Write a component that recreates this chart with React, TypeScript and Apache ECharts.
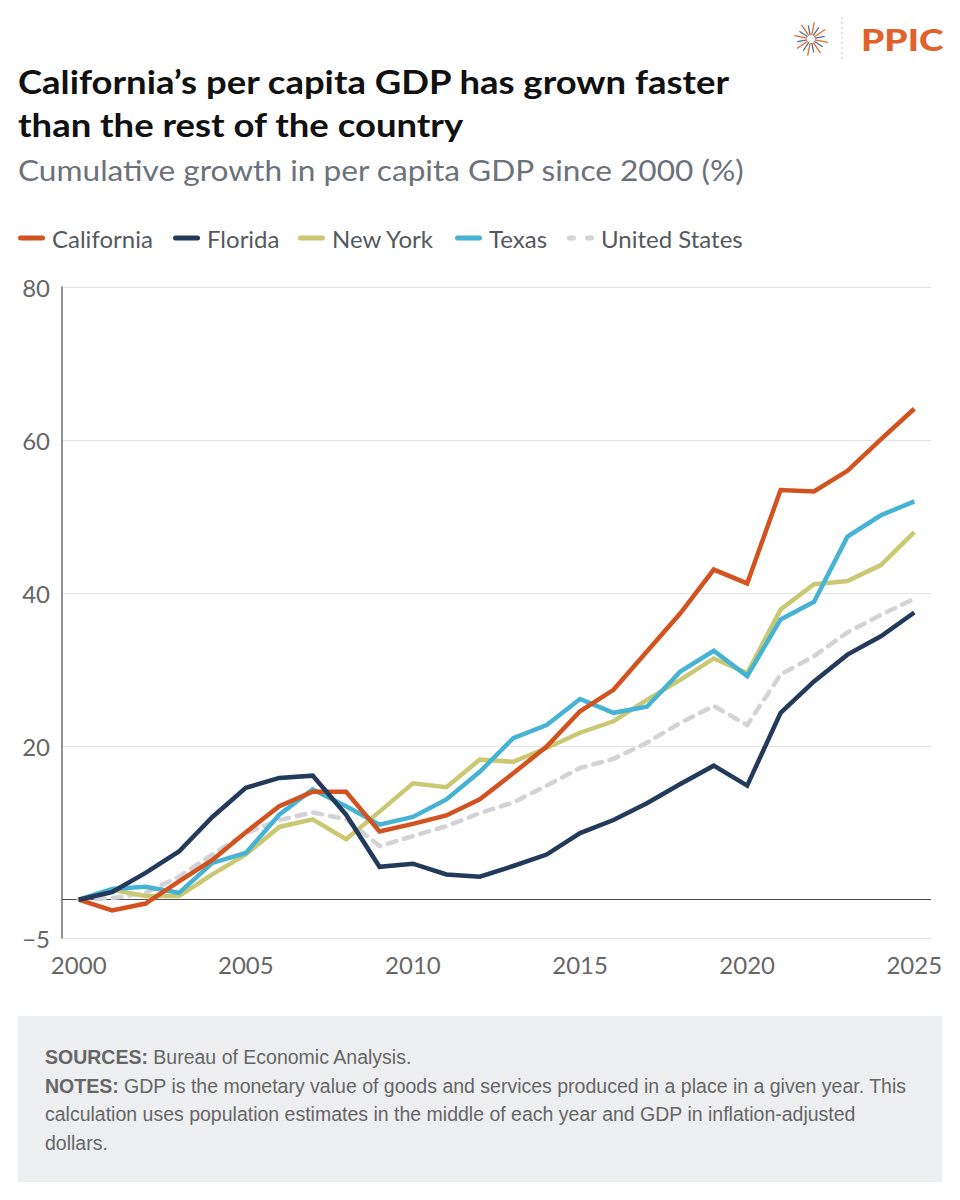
import React, { useEffect, useRef } from "react";
import * as echarts from "echarts";

const years = ["2000","2001","2002","2003","2004","2005","2006","2007","2008","2009","2010","2011","2012","2013","2014","2015","2016","2017","2018","2019","2020","2021","2022","2023","2024","2025"];

const california = [0, -1.4, -0.5, 2.4, 5.2, 8.8, 12.2, 14.1, 14.1, 8.9, 9.9, 11.0, 13.1, 16.5, 20.0, 24.6, 27.4, 32.4, 37.4, 43.1, 41.3, 53.5, 53.3, 56.0, 60.1, 64.1];
const florida = [0, 1.0, 3.5, 6.3, 10.8, 14.6, 15.9, 16.2, 11.1, 4.3, 4.7, 3.3, 3.0, 4.4, 5.9, 8.7, 10.4, 12.6, 15.1, 17.5, 14.9, 24.4, 28.5, 32.0, 34.4, 37.5];
const newYork = [0, 1.3, 0.5, 0.5, 3.3, 5.9, 9.5, 10.5, 7.9, 11.5, 15.2, 14.7, 18.3, 18.0, 19.8, 21.8, 23.3, 26.1, 28.7, 31.5, 29.6, 37.9, 41.2, 41.6, 43.7, 48.0];
const texas = [0, 1.4, 1.7, 0.9, 4.8, 6.1, 11.1, 14.4, 12.2, 9.8, 10.8, 13.1, 16.7, 21.1, 22.8, 26.2, 24.4, 25.2, 29.8, 32.5, 29.2, 36.6, 38.9, 47.4, 50.2, 52.0];
const unitedStates = [0, 0.2, 0.9, 3.0, 5.9, 8.7, 10.4, 11.4, 10.5, 7.0, 8.3, 9.6, 11.3, 12.7, 14.9, 17.2, 18.4, 20.5, 23.1, 25.3, 22.8, 29.4, 31.8, 34.9, 37.2, 39.3];

const seriesNames = ["California", "Florida", "New York", "Texas", "United States"];
const yMin = -5;
const yMax = 80;
const yStep = 5;
const yLabelValues = [-5, 20, 40, 60, 80];

const titleLines = [
  "California\u2019s per capita GDP has grown faster",
  "than the rest of the country",
];
const subtitle = "Cumulative growth in per capita GDP since 2000 (%)";
const sourceText = "Bureau of Economic Analysis.";
const notesLines = [
  "GDP is the monetary value of goods and services produced in a place in a given year. This",
  "calculation uses population estimates in the middle of each year and GDP in inflation-adjusted",
  "dollars.",
];

const FONT = "Lato, 'Noto Sans', sans-serif";
const FOOT_FONT = "'Liberation Sans', Arial, sans-serif";

const COLORS: Record<string, string> = {
  California: "#d2531f",
  Florida: "#243a5a",
  "New York": "#cbc873",
  Texas: "#47b3d4",
  "United States": "#d3d3d7",
};

const SOLID_ICON = "path://M2.5,0H24.5A2.5,2.5,0,0,1,24.5,5H2.5A2.5,2.5,0,0,1,2.5,0Z";
const DOT_ICON =
  "path://M2.5,0H6.5A2.5,2.5,0,0,1,6.5,5H2.5A2.5,2.5,0,0,1,2.5,0Z M20.5,0H24.5A2.5,2.5,0,0,1,24.5,5H20.5A2.5,2.5,0,0,1,20.5,0Z";

export default function App() {
  const ref = useRef<HTMLDivElement>(null);

  useEffect(() => {
    document.body.style.margin = "0";
    const chart = echarts.init(ref.current!, null, { renderer: "svg", width: 960, height: 1200 });

    const ticks: number[] = [];
    for (let v = yMin; v <= yMax; v += yStep) ticks.push(v);
    const splitColors = ticks.map((v) =>
      v === 0 ? "#505050" : yLabelValues.includes(v) ? "#e3e3e3" : "rgba(0,0,0,0)"
    );

    const dataMap: Record<string, number[]> = {
      California: california,
      Florida: florida,
      "New York": newYork,
      Texas: texas,
      "United States": unitedStates,
    };

    const drawOrder = ["United States", "New York", "Texas", "California", "Florida"];
    const series = drawOrder.map((name, i) => ({
      name,
      type: "line",
      data: dataMap[name],
      symbol: "none",
      z: 2 + i,
      lineStyle: {
        color: COLORS[name],
        width: 4.5,
        type: name === "United States" ? [9, 8] : "solid",
        cap: name === "United States" ? "round" : "butt",
        join: "miter",
      },
      itemStyle: { color: COLORS[name] },
    }));

    const legendLeft = [18, 173, 298, 455, 567];
    const legends = seriesNames.map((name, i) => ({
      data: [
        {
          name,
          icon: name === "United States" ? DOT_ICON : SOLID_ICON,
          itemStyle: { color: COLORS[name], borderWidth: 0 },
        },
      ],
      left: legendLeft[i],
      top: 226,
      itemWidth: 27,
      itemHeight: 5,
      selectedMode: false,
      padding: 0,
      textStyle: { fontSize: 24, color: "#55585e", fontFamily: FONT, padding: [0, 0, 0, 2] },
    }));

    // starburst logo rays
    const rays: any[] = [];
    const cx = 811;
    const cy = 39;
    for (let k = 0; k < 16; k++) {
      const a = (k * Math.PI * 2) / 16 + Math.PI / 16;
      const r1 = 4;
      const r2 = k % 2 === 0 ? 17 : 14;
      rays.push({
        type: "line",
        shape: {
          x1: cx + r1 * Math.cos(a),
          y1: cy + r1 * Math.sin(a),
          x2: cx + r2 * Math.cos(a),
          y2: cy + r2 * Math.sin(a),
        },
        style: { stroke: k % 2 === 0 ? "#e0692f" : "#5b6b8c", lineWidth: 1.3 },
      });
    }

    const footStyle = (text: string) => ({
      text,
      fill: "#666",
      font: `19.5px ${FOOT_FONT}`,
      verticalAlign: "middle",
      rich: { b: { fontWeight: "bold", fontSize: 19.5, fontFamily: FOOT_FONT, fill: "#666" } },
    });

    const graphic: any[] = [
      ...rays,
      {
        type: "line",
        shape: { x1: 842, y1: 17, x2: 842, y2: 62 },
        style: { stroke: "#c8c8c8", lineWidth: 1, lineDash: [2, 3] },
      },
      {
        type: "text",
        x: 861,
        y: 39,
        scaleX: 1.2,
        style: {
          text: "PPIC",
          fill: "#e2612a",
          font: `900 31px ${FONT}`,
          verticalAlign: "middle",
        },
      },
      {
        type: "text",
        x: 18,
        y: 81,
        scaleX: 1.14,
        style: { text: titleLines[0], fill: "#111", font: `bold 32px ${FONT}`, verticalAlign: "middle" },
      },
      {
        type: "text",
        x: 18,
        y: 124,
        scaleX: 1.14,
        style: { text: titleLines[1], fill: "#111", font: `bold 32px ${FONT}`, verticalAlign: "middle" },
      },
      {
        type: "text",
        x: 18,
        y: 170,
        scaleX: 1.11,
        style: { text: subtitle, fill: "#6c717b", font: `28.5px ${FONT}`, verticalAlign: "middle" },
      },
      {
        type: "rect",
        shape: { x: 18, y: 1016, width: 924, height: 166 },
        style: { fill: "#eeeff1" },
      },
      { type: "text", x: 45, y: 1057, style: footStyle(`{b|SOURCES:} ${sourceText}`) },
      { type: "text", x: 45, y: 1086, style: footStyle(`{b|NOTES:} ${notesLines[0]}`) },
      { type: "text", x: 45, y: 1114, style: footStyle(notesLines[1]) },
      { type: "text", x: 45, y: 1143, style: footStyle(notesLines[2]) },
    ];

    const option: any = {
      animation: false,
      backgroundColor: "#ffffff",
      textStyle: { fontFamily: FONT },
      legend: legends,
      grid: { left: 62, right: 29, top: 287, bottom: 262, containLabel: false },
      xAxis: {
        type: "category",
        data: years,
        boundaryGap: true,
        axisLine: { show: false },
        axisTick: { show: false },
        splitLine: { show: false },
        axisLabel: {
          interval: 4,
          color: "#666",
          fontSize: 24,
          fontFamily: FONT,
          margin: 14,
        },
      },
      yAxis: {
        type: "value",
        min: yMin,
        max: yMax,
        interval: yStep,
        axisLine: { show: true, lineStyle: { color: "#6e6e6e", width: 1.5 } },
        axisTick: { show: false },
        splitLine: { show: true, showMinLine: true, showMaxLine: true, lineStyle: { color: splitColors, width: 1 } },
        axisLabel: {
          color: "#666",
          fontSize: 24,
          fontFamily: FONT,
          margin: 12,
          formatter: (v: number) =>
            yLabelValues.includes(v) ? (v < 0 ? "\u2212" + Math.abs(v) : String(v)) : "",
        },
      },
      series,
      graphic,
    };

    chart.setOption(option);
    return () => chart.dispose();
  }, []);

  return <div ref={ref} style={{ width: 960, height: 1200 }} />;
}
